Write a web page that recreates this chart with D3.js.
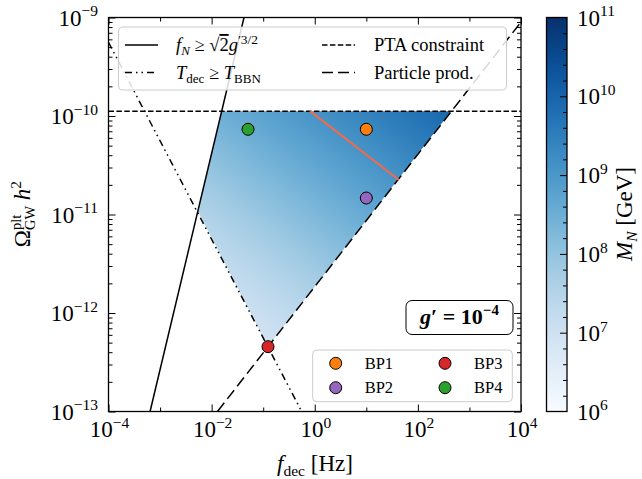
<!DOCTYPE html>
<html lang="en">
<head>
<meta charset="utf-8">
<title>GW parameter space</title>
<script src="https://cdn.jsdelivr.net/npm/d3@7"></script>
<style>
  body { margin: 0; background: #fff; }
  text { font-family: "Liberation Serif", "DejaVu Serif", serif; fill: #000; }
</style>
</head>
<body>
<script>
// ---- data ----
var xMajor = [1e-4, 1e-2, 1e0, 1e2, 1e4];
var xMinor = [1e-3, 1e-1, 1e1, 1e3];
var xLabelExp = ["−4", "−2", "0", "2", "4"];
var yMajor = [1e-13, 1e-12, 1e-11, 1e-10, 1e-9];
var yLabelExp = ["−13", "−12", "−11", "−10", "−9"];
var cbMajor = [1e6, 1e7, 1e8, 1e9, 1e10, 1e11];
var cbLabelExp = ["6", "7", "8", "9", "10", "11"];

// constraint lines [f_dec, Omega h^2]
var fNLine = [[6.4e-4, 1e-13], [0.0425, 1e-9]];
var bbnLine = [[1e-4, 5.6e-10], [0.558, 1e-13]];
var ptaLevel = 1.12e-10;
var ppLine = [[0.0130, 1e-13], [1e4, 9.0e-10]];
var orangeLine = [[0.81, 1.12e-10], [43, 2.24e-11]];

// allowed region vertices
var allowedRegion = [[0.01567, 1.12e-10], [440, 1.12e-10], [0.124, 4.55e-13], [0.0054, 1.08e-11]];
// M_N at low / high corner of the region
var mLow = 8e6, mHigh = 9e9;

var bpNames = ["BP1", "BP2", "BP3", "BP4"];
var bpF = [10, 10, 0.124, 0.0508];
var bpOmega = [7.33e-11, 1.47e-11, 4.55e-13, 7.33e-11];
var bpColors = ["#ff7f0e", "#9467bd", "#d62728", "#2ca02c"];

// ---- setup ----
var w = 642, h = 479;
var x0 = 108.5, x1 = 521, y0 = 17.5, y1 = 411.5;
var cbX0 = 546.5, cbX1 = 567;

var svg = d3.select("body").append("svg").attr("width", w).attr("height", h);
var defs = svg.append("defs");

var x = d3.scaleLog().domain([1e-4, 1e4]).range([x0, x1]);
var y = d3.scaleLog().domain([1e-13, 1e-9]).range([y1, y0]);
var cb = d3.scaleLog().domain([1e6, 1e11]).range([y1, y0]);
var colour = d3.scaleSequentialLog(d3.interpolateBlues).domain([1e6, 1e11]);

defs.append("clipPath").attr("id", "plotclip")
  .append("rect").attr("x", x0).attr("y", y0).attr("width", x1 - x0).attr("height", y1 - y0);

// text with sup/sub parts
function mathText(g, px, py, parts, anchor, fs) {
  var t = g.append("text").attr("x", px).attr("y", py)
    .attr("text-anchor", anchor).style("font-size", fs + "px");
  var cur = 0;
  parts.forEach(function(p) {
    var off = p.sup ? -fs * 0.4 : (p.sub ? fs * 0.22 : 0);
    var ts = t.append("tspan").text(p.t).attr("dy", off - cur);
    cur = off;
    if (p.sup || p.sub) ts.style("font-size", (p.size || fs * 0.7) + "px");
    if (p.it) ts.style("font-style", "italic");
    if (p.bold) ts.style("font-weight", "bold");
    if (p.over) ts.style("text-decoration", "overline");
    if (p.back) {
      var prev = t.selectAll("tspan").nodes();
      var len = prev[prev.length - 2].getComputedTextLength();
      ts.attr("dx", -len);
    }
  });
  return t;
}

// ---- allowed region with M_N gradient ----
var grad = defs.append("linearGradient").attr("id", "mgrad")
  .attr("gradientUnits", "userSpaceOnUse")
  .attr("x1", x(allowedRegion[2][0])).attr("y1", y(allowedRegion[2][1]))
  .attr("x2", x(allowedRegion[1][0])).attr("y2", y(allowedRegion[1][1]));
d3.range(0, 11).forEach(function(i) {
  var m = Math.pow(10, Math.log10(mLow) + (Math.log10(mHigh) - Math.log10(mLow)) * i / 10);
  grad.append("stop").attr("offset", i / 10).attr("stop-color", colour(m));
});

var plot = svg.append("g").attr("clip-path", "url(#plotclip)");
plot.append("path")
  .attr("d", "M" + allowedRegion.map(function(d) { return [x(d[0]), y(d[1])]; }).join("L") + "Z")
  .attr("fill", "url(#mgrad)");

var line = d3.line().x(function(d) { return x(d[0]); }).y(function(d) { return y(d[1]); });

plot.append("path").attr("d", line(fNLine))
  .attr("fill", "none").attr("stroke", "#000").attr("stroke-width", 1.5);
plot.append("path").attr("d", line(bbnLine))
  .attr("fill", "none").attr("stroke", "#000").attr("stroke-width", 1.5)
  .attr("stroke-dasharray", "7,4,1.5,4,1.5,4");
plot.append("path").attr("d", line([[1e-4, ptaLevel], [1e4, ptaLevel]]))
  .attr("fill", "none").attr("stroke", "#000").attr("stroke-width", 1.5)
  .attr("stroke-dasharray", "5.5,2.4");
plot.append("path").attr("d", line(ppLine))
  .attr("fill", "none").attr("stroke", "#000").attr("stroke-width", 1.5)
  .attr("stroke-dasharray", "11,5");
plot.append("path").attr("d", line(orangeLine))
  .attr("fill", "none").attr("stroke", "#f4694a").attr("stroke-width", 2);

// benchmark points
plot.selectAll("circle.bp").data(bpNames).enter().append("circle")
  .attr("class", "bp")
  .attr("cx", function(d, i) { return x(bpF[i]); })
  .attr("cy", function(d, i) { return y(bpOmega[i]); })
  .attr("r", 6)
  .attr("fill", function(d, i) { return bpColors[i]; })
  .attr("stroke", "#000").attr("stroke-width", 1);

// ---- ticks ----
function tickAxis(axis, tx, ty) {
  var g = svg.append("g").attr("transform", "translate(" + tx + "," + ty + ")").call(axis);
  g.select(".domain").remove();
  g.selectAll("line").attr("stroke", "#000").attr("stroke-width", 1);
  return g;
}
tickAxis(d3.axisBottom(x).tickValues(xMajor).tickSizeInner(-7).tickSizeOuter(0).tickFormat(""), 0, y1);
tickAxis(d3.axisBottom(x).tickValues(xMinor).tickSizeInner(-4).tickSizeOuter(0).tickFormat(""), 0, y1);
tickAxis(d3.axisTop(x).tickValues(xMajor).tickSizeInner(-7).tickSizeOuter(0).tickFormat(""), 0, y0);
tickAxis(d3.axisTop(x).tickValues(xMinor).tickSizeInner(-4).tickSizeOuter(0).tickFormat(""), 0, y0);

var yMinor = [];
yMajor.slice(0, 4).forEach(function(d) {
  for (var k = 2; k <= 9; k++) yMinor.push(d * k);
});
tickAxis(d3.axisLeft(y).tickValues(yMajor).tickSizeInner(-7).tickSizeOuter(0).tickFormat(""), x0, 0);
tickAxis(d3.axisLeft(y).tickValues(yMinor).tickSizeInner(-4).tickSizeOuter(0).tickFormat(""), x0, 0);
tickAxis(d3.axisRight(y).tickValues(yMajor).tickSizeInner(-7).tickSizeOuter(0).tickFormat(""), x1, 0);
tickAxis(d3.axisRight(y).tickValues(yMinor).tickSizeInner(-4).tickSizeOuter(0).tickFormat(""), x1, 0);

// tick labels
xMajor.forEach(function(d, i) {
  mathText(svg, x(d) + 1, 437, [{t: "10"}, {t: xLabelExp[i], sup: true, size: 15.5}], "middle", 23);
});
yMajor.forEach(function(d, i) {
  mathText(svg, 98, y(d) + 8, [{t: "10"}, {t: yLabelExp[i], sup: true, size: 15.5}], "end", 23);
});

// frame
svg.append("rect").attr("x", x0).attr("y", y0).attr("width", x1 - x0).attr("height", y1 - y0)
  .attr("fill", "none").attr("stroke", "#000").attr("stroke-width", 1.3);

// axis labels
mathText(svg, 315, 471, [{t: "f", it: true}, {t: "dec", sub: true, size: 15.5}, {t: " [Hz]"}], "middle", 23);
var yl = svg.append("g").attr("transform", "translate(30,214) rotate(-90)");
mathText(yl, 0, 0, [{t: "Ω"}, {t: "plt", sup: true, size: 14.5}, {t: "GW", sub: true, size: 14.5, back: true},
  {t: " h", it: true}, {t: "2", sup: true, size: 15.5}], "middle", 23);

// ---- legends ----
var leg1 = svg.append("g");
leg1.append("rect").attr("x", 118.5).attr("y", 27).attr("width", 388).attr("height", 63).attr("rx", 4)
  .attr("fill", "#fff").attr("fill-opacity", 0.85).attr("stroke", "#cccccc");
var legLines = [
  {x: 125, y: 45, dash: null},
  {x: 125, y: 72.5, dash: "7,4,1.5,4,1.5,4"},
  {x: 322, y: 45, dash: "5.5,2.4"},
  {x: 322, y: 72.5, dash: "11,5"}
];
legLines.forEach(function(d) {
  leg1.append("line").attr("x1", d.x).attr("x2", d.x + 33).attr("y1", d.y).attr("y2", d.y)
    .attr("stroke", "#000").attr("stroke-width", 1.5).attr("stroke-dasharray", d.dash);
});
mathText(leg1, 176, 51, [{t: "f", it: true}, {t: "N", sub: true, it: true, size: 13}, {t: " ≥ √"},
  {t: "2", over: true}, {t: "g", it: true}, {t: "′3/2", sup: true, size: 13.5}], "start", 18.5);
mathText(leg1, 176, 78.5, [{t: "T", it: true}, {t: "dec", sub: true, size: 13}, {t: " ≥ "},
  {t: "T", it: true}, {t: "BBN", sub: true, size: 13}], "start", 18.5);
mathText(leg1, 374, 51, [{t: "PTA constraint"}], "start", 18.5);
mathText(leg1, 374, 78.5, [{t: "Particle prod."}], "start", 18.5);

var leg2 = svg.append("g");
leg2.append("rect").attr("x", 312.7).attr("y", 350).attr("width", 199.6).attr("height", 51.7).attr("rx", 4)
  .attr("fill", "#fff").attr("fill-opacity", 0.85).attr("stroke", "#cccccc");
var legPos = [[335.7, 363.3], [335.7, 387.7], [445, 363.3], [445, 387.7]];
bpNames.forEach(function(name, i) {
  leg2.append("circle").attr("cx", legPos[i][0]).attr("cy", legPos[i][1]).attr("r", 6)
    .attr("fill", bpColors[i]).attr("stroke", "#000").attr("stroke-width", 1);
  leg2.append("text").attr("x", legPos[i][0] + 29).attr("y", legPos[i][1] + 5.5)
    .style("font-size", "16.5px").text(name);
});

// g' box
svg.append("rect").attr("x", 406).attr("y", 300.5).attr("width", 107).attr("height", 34).attr("rx", 6)
  .attr("fill", "#fff").attr("stroke", "#000").attr("stroke-width", 1);
mathText(svg, 459.5, 324, [{t: "g", it: true, bold: true}, {t: "′ = 10", bold: true},
  {t: "−4", sup: true, bold: true, size: 15}], "middle", 22);

// ---- colorbar ----
var cgrad = defs.append("linearGradient").attr("id", "cbgrad")
  .attr("x1", 0).attr("y1", 1).attr("x2", 0).attr("y2", 0);
d3.range(0, 21).forEach(function(i) {
  cgrad.append("stop").attr("offset", i / 20).attr("stop-color", d3.interpolateBlues(i / 20));
});
svg.append("rect").attr("x", cbX0).attr("y", y0).attr("width", cbX1 - cbX0).attr("height", y1 - y0)
  .attr("fill", "url(#cbgrad)").attr("stroke", "#000").attr("stroke-width", 1.3);

var cbMinor = [];
cbMajor.slice(0, 5).forEach(function(d) {
  for (var k = 1; k <= 4; k++) cbMinor.push(d * Math.pow(10, k / 5));
});
tickAxis(d3.axisRight(cb).tickValues(cbMajor.slice(1, 5)).tickSizeInner(-7).tickSizeOuter(0).tickFormat(""), cbX1, 0);
tickAxis(d3.axisRight(cb).tickValues(cbMinor).tickSizeInner(-4).tickSizeOuter(0).tickFormat(""), cbX1, 0);
cbMajor.forEach(function(d, i) {
  mathText(svg, 577, cb(d) + 8, [{t: "10"}, {t: cbLabelExp[i], sup: true, size: 15.5}], "start", 23);
});
var cl = svg.append("g").attr("transform", "translate(632,214) rotate(-90)");
mathText(cl, 0, 0, [{t: "M", it: true}, {t: "N", sub: true, it: true, size: 15.5}, {t: " [GeV]"}], "middle", 23);
</script>
</body>
</html>
